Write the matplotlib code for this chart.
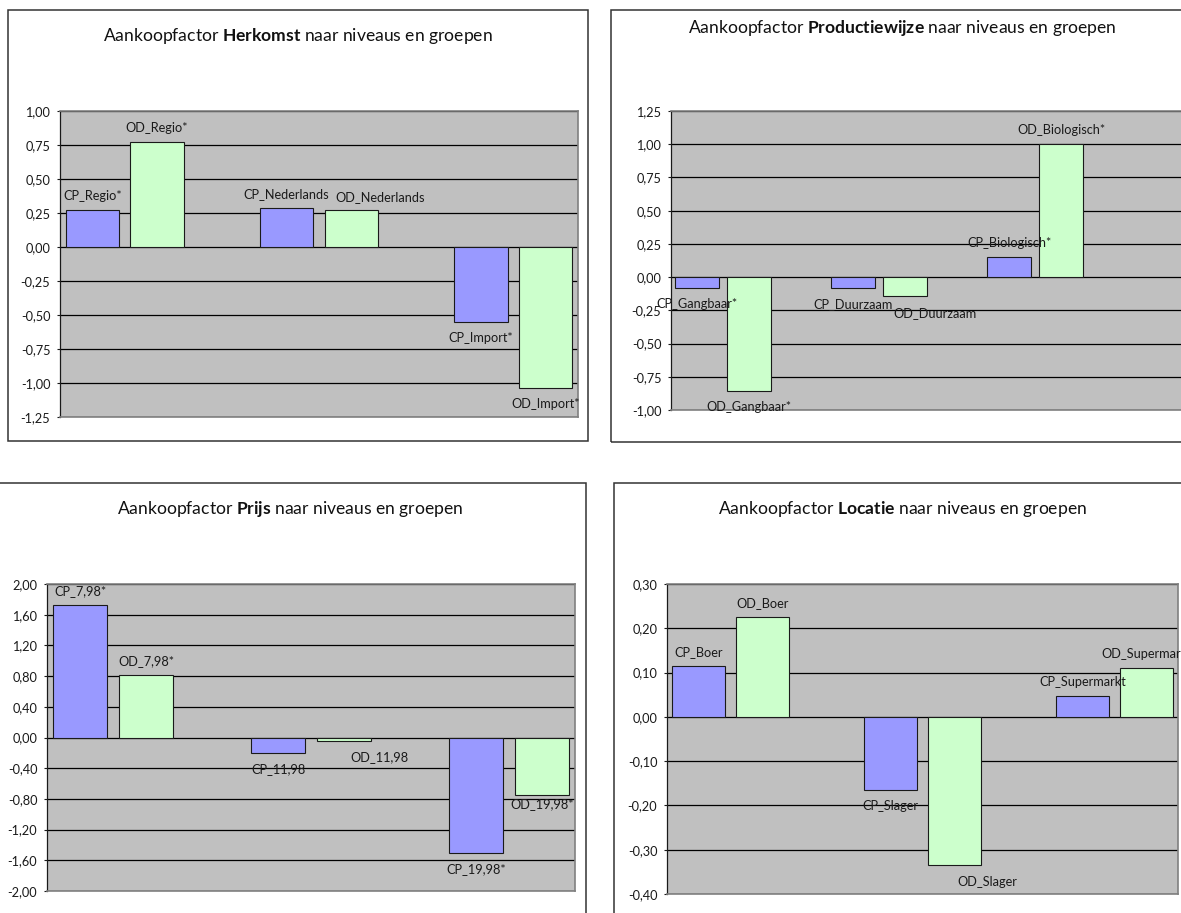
import numpy as np
import matplotlib
matplotlib.use("Agg")
import matplotlib.pyplot as plt
from matplotlib.patches import Rectangle

plt.rcParams['font.family'] = ['Lato', 'DejaVu Sans']
plt.rcParams['mathtext.fontset'] = 'custom'
plt.rcParams['mathtext.rm'] = 'Lato'
plt.rcParams['mathtext.bf'] = 'Lato:bold'

# Aankoopfactor Herkomst
herkomst_labels = ["CP_Regio*", "OD_Regio*", "CP_Nederlands", "OD_Nederlands", "CP_Import*", "OD_Import*"]
herkomst_values = [0.27, 0.77, 0.285, 0.27, -0.55, -1.035]

# Aankoopfactor Productiewijze
productie_labels = ["CP_Gangbaar*", "OD_Gangbaar*", "CP_Duurzaam", "OD_Duurzaam", "CP_Biologisch*", "OD_Biologisch*"]
productie_values = [-0.08, -0.855, -0.08, -0.145, 0.15, 1.0]

# Aankoopfactor Prijs
prijs_labels = ["CP_7,98*", "OD_7,98*", "CP_11,98", "OD_11,98", "CP_19,98*", "OD_19,98*"]
prijs_values = [1.72, 0.815, -0.205, -0.05, -1.50, -0.745]

# Aankoopfactor Locatie
locatie_labels = ["CP_Boer", "OD_Boer", "CP_Slager", "OD_Slager", "CP_Supermarkt", "OD_Supermarkt"]
locatie_values = [0.115, 0.225, -0.165, -0.335, 0.048, 0.11]

W, H = 1181, 913
fig = plt.figure(figsize=(W / 100, H / 100), dpi=100)

cp_kleur = "#9999FF"
od_kleur = "#CCFFCC"

# labels die handmatig verschoven zijn (pixels)
verschuiving = {"OD_Nederlands": (29, 13), "OD_Duurzaam": (30, -17), "OD_11,98": (35, -16),
                "OD_19,98*": (0, -9), "OD_Slager": (33, -17)}


def kader(x0, y0, x1, y1):
    fig.add_artist(Rectangle((x0 / W, 1 - y1 / H), (x1 - x0) / W, (y1 - y0) / H,
                             transform=fig.transFigure, fill=False, ec="#333333", lw=1.1))


def grafiek(left, top, right, bottom, slot, labels, values, ticks, titel, tx, ty):
    ax = fig.add_axes([left / W, 1 - bottom / H, (right - left) / W, (bottom - top) / H])
    ax.set_facecolor("#C0C0C0")
    pos = []
    for i in range(len(values)):
        pos.append(3 * (i // 2) + i % 2)
    kleuren = [cp_kleur if l.startswith("CP") else od_kleur for l in labels]
    ax.bar(pos, values, width=0.83, color=kleuren, edgecolor="#1a1a1a", linewidth=0.8, zorder=3)
    ax.set_xlim(-0.5, -0.5 + (right - left) / slot)
    ax.set_ylim(ticks[0], ticks[-1])
    ax.set_yticks(ticks)
    ax.set_yticklabels([("%.2f" % (0.0 if abs(t) < 1e-9 else t)).replace(".", ",") for t in ticks])
    ax.set_xticks([])
    ax.yaxis.grid(True, color="black", lw=0.9, zorder=1)
    ax.set_axisbelow(True)
    ax.tick_params(axis="y", length=2.5, width=0.8, pad=4.5, labelsize=9.2, colors="#1a1a1a")
    for s in ["top", "right", "bottom"]:
        ax.spines[s].set_color("#808080")
        ax.spines[s].set_linewidth(1.2)
    ax.spines["left"].set_color("#1a1a1a")
    ax.spines["left"].set_linewidth(0.9)
    for x, v, l in zip(pos, values, labels):
        dx, dy = verschuiving.get(l, (0, 14 if v >= 0 else -16))
        ax.annotate(l, (x, v), xytext=(dx, dy), textcoords="offset pixels",
                    ha="center", va="center", fontsize=9.2, color="#1a1a1a",
                    annotation_clip=False, zorder=5)
    fig.text(tx / W, 1 - ty / H, titel, ha="center", va="center", fontsize=12.6, color="#111111")
    return ax


kader(8, 10, 588, 441)
grafiek(60, 111, 578, 417, 64.75, herkomst_labels, herkomst_values,
        np.arange(-1.25, 1.001, 0.25), r"Aankoopfactor $\mathbf{Herkomst}$ naar niveaus en groepen", 298, 36)

kader(611, 10, 1194, 442)
grafiek(671, 111, 1195, 410, 52.0, productie_labels, productie_values,
        np.arange(-1.0, 1.251, 0.25), r"Aankoopfactor $\mathbf{Productiewijze}$ naar niveaus en groepen", 902, 28)

kader(-6, 483, 586, 930)
grafiek(47, 584, 575, 891, 66.0, prijs_labels, prijs_values,
        np.linspace(-2.0, 2.0, 11), r"Aankoopfactor $\mathbf{Prijs}$ naar niveaus en groepen", 290, 509)

kader(614, 483, 1190, 930)
grafiek(667, 584, 1178, 894, 63.9, locatie_labels, locatie_values,
        np.linspace(-0.4, 0.3, 8), r"Aankoopfactor $\mathbf{Locatie}$ naar niveaus en groepen", 902, 509)

fig.savefig("out.png", dpi=100)
